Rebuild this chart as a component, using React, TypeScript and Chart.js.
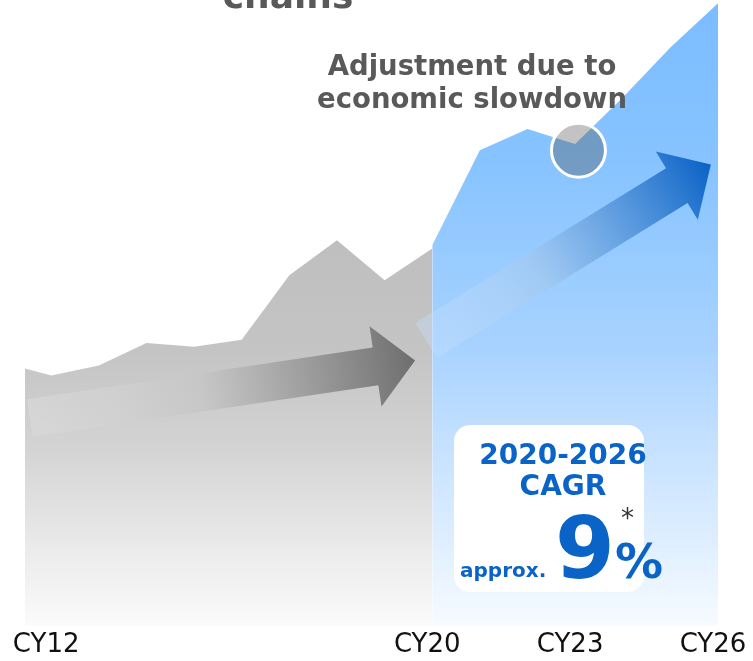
import { useEffect, useRef } from 'react';
import { Chart, registerables } from 'chart.js';

Chart.register(...registerables);

// ---- data ----
const histYears = [2011.45, 2012, 2013, 2014, 2015, 2016, 2017, 2018, 2019, 2020];
const histValues = [41.1, 40.0, 41.6, 45.2, 44.6, 45.7, 56.0, 61.6, 55.2, 60.3];
const fcstYears = [2020, 2021, 2022, 2023, 2024, 2025, 2026];
const fcstValues = [60.8, 76.0, 79.4, 77.0, 84.4, 92.4, 99.5];
const tickYears = [2012, 2020, 2023, 2026];
const tickLabels = ['CY12', 'CY20', 'CY23', 'CY26'];
const histArrowFrom = [2011.55, 33.2];
const histArrowTo = [2019.64, 42.4];
const fcstArrowFrom = [2019.87, 45.6];
const fcstArrowTo = [2025.85, 73.7];
const dipPoint = [2023.07, 76.0];
const titleText = 'chains';
const calloutLines = ['Adjustment due to', 'economic slowdown'];
const cagrRange = '2020-2026';
const cagrLabel = 'CAGR';
const cagrPrefix = 'approx.';
const cagrValue = '9';
const cagrUnit = '%';
const cagrNote = '*';

const FONT = '"DejaVu Sans", Verdana, sans-serif';

function drawArrow(
  ctx: CanvasRenderingContext2D,
  x0: number, y0: number, x1: number, y1: number,
  shaftW: number, headW: number, headL: number,
  stops: [number, string][]
) {
  const dx = x1 - x0, dy = y1 - y0;
  const len = Math.hypot(dx, dy);
  ctx.save();
  ctx.translate(x0, y0);
  ctx.rotate(Math.atan2(dy, dx));
  const g = ctx.createLinearGradient(0, 0, len, 0);
  stops.forEach(([o, c]) => g.addColorStop(o, c));
  ctx.fillStyle = g;
  ctx.beginPath();
  ctx.moveTo(0, -shaftW / 2);
  ctx.lineTo(len - headL, -shaftW / 2);
  ctx.lineTo(len - headL, -headW / 2);
  ctx.lineTo(len, 0);
  ctx.lineTo(len - headL, headW / 2);
  ctx.lineTo(len - headL, shaftW / 2);
  ctx.lineTo(0, shaftW / 2);
  ctx.closePath();
  ctx.fill();
  ctx.restore();
}

const overlayPlugin = {
  id: 'overlay',
  afterDatasetsDraw(chart: any) {
    const ctx: CanvasRenderingContext2D = chart.ctx;
    const xs = chart.scales.x;
    const ys = chart.scales.y;
    const px = (p: number[]) => [xs.getPixelForValue(p[0]), ys.getPixelForValue(p[1])];

    const [ga, gb] = px(histArrowFrom);
    const [gc, gd] = px(histArrowTo);
    drawArrow(ctx, ga, gb, gc, gd, 38, 81, 40, [
      [0, 'rgba(220,220,220,0.5)'],
      [0.45, 'rgba(198,198,198,0.9)'],
      [1, '#6e6e6e'],
    ]);
    const [ba, bb] = px(fcstArrowFrom);
    const [bc, bd] = px(fcstArrowTo);
    drawArrow(ctx, ba, bb, bc, bd, 41, 80, 40, [
      [0, 'rgba(200,225,255,0.35)'],
      [0.4, 'rgba(160,200,240,0.8)'],
      [1, '#0a62c6'],
    ]);

    const [cx, cy] = px(dipPoint);
    ctx.save();
    ctx.beginPath();
    ctx.arc(cx, cy, 27, 0, Math.PI * 2);
    ctx.fillStyle = 'rgba(80,80,80,0.34)';
    ctx.fill();
    ctx.lineWidth = 3;
    ctx.strokeStyle = '#ffffff';
    ctx.stroke();
    ctx.restore();
  },
  afterDraw(chart: any) {
    const ctx: CanvasRenderingContext2D = chart.ctx;
    ctx.save();
    ctx.textAlign = 'center';
    ctx.textBaseline = 'alphabetic';
    ctx.fillStyle = '#595959';
    ctx.font = `bold 36px ${FONT}`;
    ctx.fillText(titleText, 288, 8);
    ctx.font = `bold 27.5px ${FONT}`;
    ctx.fillText(calloutLines[0], 472, 75);
    ctx.fillText(calloutLines[1], 472, 108);

    ctx.fillStyle = '#ffffff';
    ctx.beginPath();
    (ctx as any).roundRect(454, 425, 190, 167, 16);
    ctx.fill();
    ctx.fillStyle = '#0a64c8';
    ctx.font = `bold 28px ${FONT}`;
    ctx.fillText(cagrRange, 563, 464);
    ctx.fillText(cagrLabel, 563, 495);
    ctx.textAlign = 'left';
    ctx.font = `bold 20px ${FONT}`;
    ctx.fillText(cagrPrefix, 460, 577);
    ctx.font = `bold 86px ${FONT}`;
    ctx.fillText(cagrValue, 555, 578);
    ctx.font = `bold 48px ${FONT}`;
    ctx.fillText(cagrUnit, 615, 578);
    ctx.fillStyle = '#333333';
    ctx.font = `26px ${FONT}`;
    ctx.fillText(cagrNote, 621, 527);
    ctx.restore();
  },
};

function grayFill(c: any) {
  const { chart } = c;
  const area = chart.chartArea;
  if (!area) return '#c0c0c0';
  const g = chart.ctx.createLinearGradient(0, area.top, 0, area.bottom);
  g.addColorStop(0, '#bdbdbd');
  g.addColorStop(0.4, '#bfbfbf');
  g.addColorStop(0.56, '#c4c4c4');
  g.addColorStop(0.72, '#d4d4d4');
  g.addColorStop(0.88, '#ebebeb');
  g.addColorStop(1, '#fbfbfb');
  return g;
}

function blueFill(c: any) {
  const { chart } = c;
  const area = chart.chartArea;
  if (!area) return '#80bfff';
  const g = chart.ctx.createLinearGradient(0, area.top, 0, area.bottom);
  g.addColorStop(0, '#7cbcff');
  g.addColorStop(0.25, '#86c3ff');
  g.addColorStop(0.55, '#a7d2ff');
  g.addColorStop(0.7, '#c3e0ff');
  g.addColorStop(0.86, '#deeeff');
  g.addColorStop(1, '#f6fbff');
  return g;
}

export default function App() {
  const ref = useRef<HTMLCanvasElement | null>(null);
  useEffect(() => {
    if (!ref.current) return;
    const chart = new Chart(ref.current, {
      type: 'line',
      data: {
        datasets: [
          {
            data: histYears.map((x, i) => ({ x, y: histValues[i] })),
            fill: 'start',
            backgroundColor: grayFill,
            borderWidth: 0,
            pointRadius: 0,
            tension: 0,
          },
          {
            data: fcstYears.map((x, i) => ({ x, y: fcstValues[i] })),
            fill: 'start',
            backgroundColor: blueFill,
            borderWidth: 0,
            pointRadius: 0,
            tension: 0,
          },
        ],
      },
      options: {
        animation: false,
        responsive: true,
        maintainAspectRatio: false,
        layout: { padding: { left: 25, right: 35, top: 0, bottom: 0 } },
        plugins: { legend: { display: false }, tooltip: { enabled: false }, title: { display: false } },
        scales: {
          x: {
            type: 'linear',
            min: 2011.45,
            max: 2026,
            afterBuildTicks: (s: any) => {
              s.ticks = tickYears.map((v) => ({ value: v }));
            },
            afterFit: (s: any) => {
              s.paddingLeft = 0;
              s.paddingRight = 0;
              s.height = s.height - 4;
            },
            grid: { display: false, drawTicks: false },
            border: { display: false },
            ticks: {
              autoSkip: false,
              maxRotation: 0,
              padding: 4,
              labelOffset: -5,
              color: '#111111',
              font: { family: FONT, size: 26 },
              callback: (v: any) => {
                const i = tickYears.indexOf(Number(v));
                return i >= 0 ? tickLabels[i] : '';
              },
            },
          },
          y: { display: false, min: 0, max: 100 },
        },
      },
      plugins: [overlayPlugin],
    } as any);
    return () => chart.destroy();
  }, []);
  return (
    <div style={{ position: 'fixed', left: 0, top: 0, width: 753, height: 661, background: '#fff' }}>
      <canvas ref={ref} />
    </div>
  );
}
